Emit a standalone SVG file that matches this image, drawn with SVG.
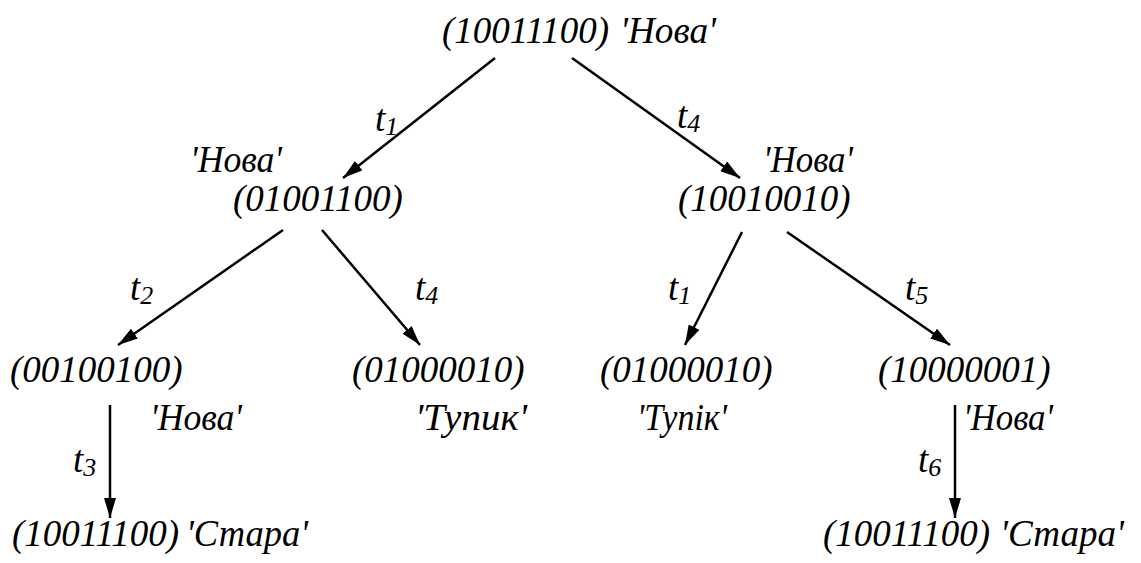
<svg xmlns="http://www.w3.org/2000/svg" width="1141" height="563" viewBox="0 0 1141 563">
<defs>
<marker id="ah" viewBox="0 0 20 12" refX="20" refY="6" markerWidth="20" markerHeight="12" markerUnits="userSpaceOnUse" orient="auto">
<path d="M0,0 L20,6 L0,12 Z" fill="#000"/>
</marker>
<style>
text{font-family:"Liberation Serif","Times New Roman",serif;font-style:italic;font-size:37px;fill:#000}
.sub{font-size:26px}
.e{stroke:#000;stroke-width:2.5;fill:none;marker-end:url(#ah)}
</style>
</defs>
<rect width="1141" height="563" fill="#fff"/>
<g id="connectors">
<line class="e" x1="495" y1="58" x2="343" y2="178"/>
<line class="e" x1="572" y1="58" x2="740" y2="178"/>
<line class="e" x1="283" y1="230" x2="118" y2="345"/>
<line class="e" x1="322" y1="230" x2="420" y2="345"/>
<line class="e" x1="742" y1="232" x2="685" y2="345"/>
<line class="e" x1="787" y1="232" x2="950" y2="345"/>
<line class="e" x1="110" y1="405" x2="110" y2="518"/>
<line class="e" x1="955" y1="405" x2="955" y2="518"/>
<text x="375" y="131">t<tspan class="sub" dy="4">1</tspan></text>
<text x="677" y="128">t<tspan class="sub" dy="4">4</tspan></text>
<text x="130" y="300">t<tspan class="sub" dy="4">2</tspan></text>
<text x="415" y="300">t<tspan class="sub" dy="4">4</tspan></text>
<text x="668" y="300">t<tspan class="sub" dy="4">1</tspan></text>
<text x="905" y="300">t<tspan class="sub" dy="4">5</tspan></text>
<text x="73" y="472">t<tspan class="sub" dy="4">3</tspan></text>
<text x="918" y="472">t<tspan class="sub" dy="4">6</tspan></text>
</g>
<g id="n0"><text x="442" y="43">(10011100)</text><text x="620" y="43" textLength="96" lengthAdjust="spacingAndGlyphs">'Нова'</text></g>
<g id="n1"><text x="190" y="172" textLength="92" lengthAdjust="spacingAndGlyphs">'Нова'</text><text x="233" y="211">(01001100)</text></g>
<g id="n2"><text x="763" y="172" textLength="90" lengthAdjust="spacingAndGlyphs">'Нова'</text><text x="678" y="211">(10010010)</text></g>
<g id="n3"><text x="10" y="382">(00100100)</text><text x="150" y="430" textLength="92" lengthAdjust="spacingAndGlyphs">'Нова'</text></g>
<g id="n4"><text x="352" y="382">(01000010)</text><text x="415" y="430" textLength="112" lengthAdjust="spacingAndGlyphs">'Тупик'</text></g>
<g id="n5"><text x="600" y="382">(01000010)</text><text x="637" y="430" textLength="90" lengthAdjust="spacingAndGlyphs">'Тупік'</text></g>
<g id="n6"><text x="878" y="382">(10000001)</text><text x="963" y="430" textLength="90" lengthAdjust="spacingAndGlyphs">'Нова'</text></g>
<g id="n7"><text x="12" y="546">(10011100)</text><text x="186" y="546" textLength="122" lengthAdjust="spacingAndGlyphs">'Стара'</text></g>
<g id="n8"><text x="823" y="546">(10011100)</text><text x="1000" y="546" textLength="124" lengthAdjust="spacingAndGlyphs">'Стара'</text></g>
</svg>
